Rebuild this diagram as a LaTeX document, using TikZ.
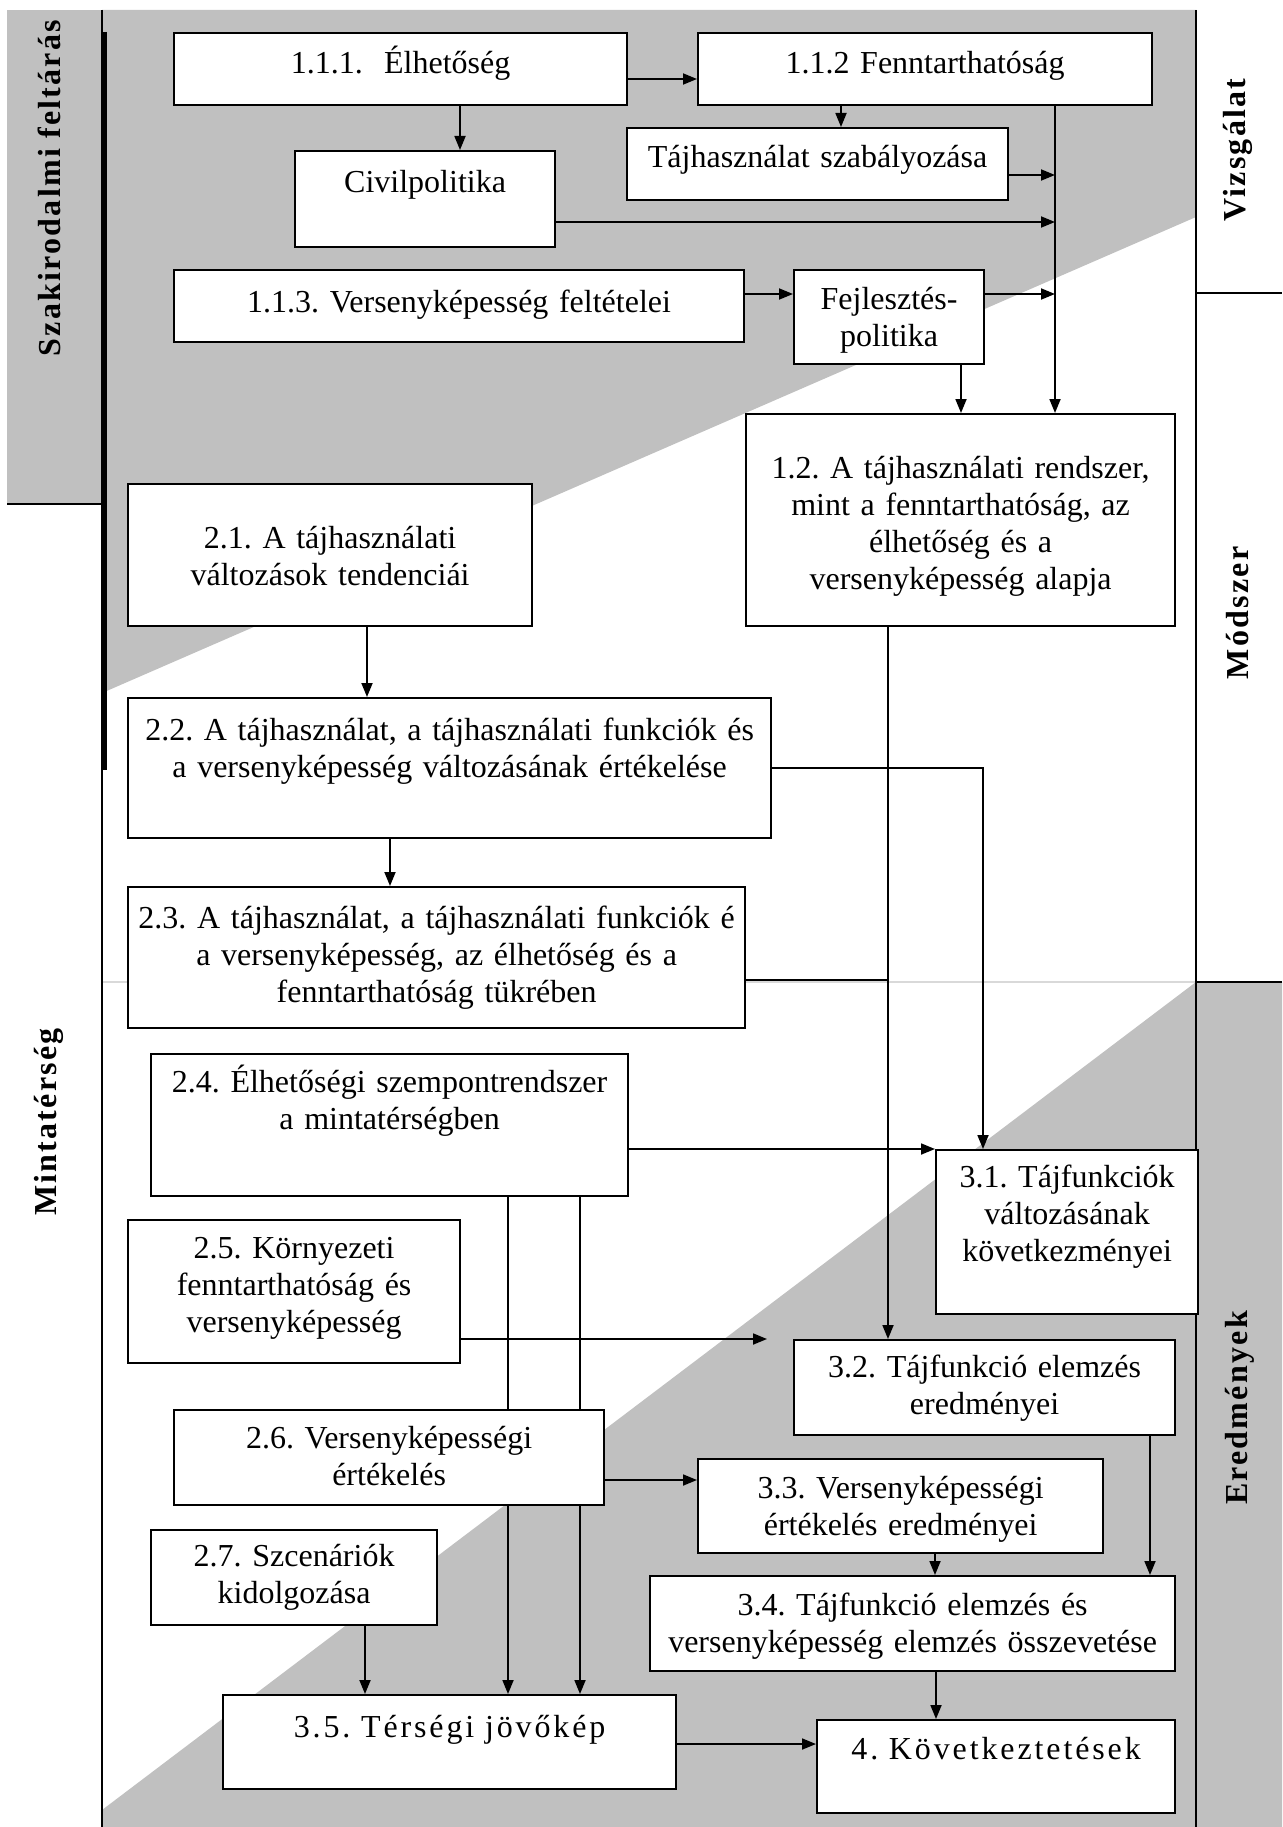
\documentclass[tikz,border=0pt]{standalone}
\usepackage{fontspec}
\setmainfont{Liberation Serif}
\usepackage{tikz}
\usetikzlibrary{arrows.meta}
\definecolor{bandgray}{RGB}{192,192,192}
\frenchspacing

\begin{document}
\begin{tikzpicture}[x=1pt,y=-1pt,
  font=\fontsize{32}{37}\selectfont,
  box/.style n args={4}{draw,line width=2.2pt,fill=white,anchor=north west,inner sep=0pt,align=center,
    text width=#1,minimum height=#2,text height=#3,text depth=#4},
  spaced/.style={font=\fontsize{32}{37}\selectfont\addfontfeature{LetterSpace=9}},
  side/.style={font=\fontsize{32}{37}\selectfont\bfseries\addfontfeature{LetterSpace=7},rotate=90},
  link/.style={line width=1.8pt,-{Triangle[length=14pt,width=11pt]}},
  plain/.style={line width=1.8pt}]
\useasboundingbox (0,0) rectangle (1282,1827);
\fill[white] (0,0) rectangle (1282,1827);
\fill[bandgray] (7,10) rectangle (102,504);
\fill[bandgray] (102,10) -- (1196,10) -- (1196,217) -- (102,693) -- cycle;
\fill[bandgray] (102,1810) -- (1196,982) -- (1282,982) -- (1282,1827) -- (102,1827) -- cycle;
\draw[black!15,line width=1.5pt] (102,982) -- (1196,982);
\draw[line width=2pt] (7,504) -- (102,504);
\draw[line width=1.8pt] (102,10) -- (102,1827);
\draw[line width=4pt] (104.5,32) -- (104.5,770);
\draw[line width=2pt] (1196,10) -- (1196,1827);
\draw[line width=2pt] (1196,293) -- (1282,293);
\draw[line width=2pt] (1196,982) -- (1282,982);

\node[side] (lszak) at (49,188) {Szakirodalmi feltárás};
\node[side] (lvizs) at (1238,150) {Vizsgálat};
\node[side] (lmod) at (1238,613) {Módszer};
\node[side] (lered) at (1240,1408) {Eredmények};
\node[side] (lmint) at (49,1122) {Mintatérség};

\node[box={453pt}{72pt}{40pt}{32pt}] (n111) at (173,32) {1.1.1.\ \ Élhetőség};
\node[box={454pt}{72pt}{40pt}{32pt}] (n112) at (697,32) {1.1.2 Fenntarthatóság};
\node[box={381pt}{72pt}{39pt}{33pt}] (ntaj) at (626,127) {Tájhasználat szabályozása};
\node[box={260pt}{96pt}{41pt}{55pt}] (ncivil) at (294,150) {Civilpolitika};
\node[box={570pt}{72pt}{42pt}{30pt}] (n113) at (173,269) {1.1.3. Versenyképesség feltételei};
\node[box={190pt}{94pt}{39pt}{55pt}] (nfejl) at (793,269) {Fejlesztés-\\politika};
\node[box={429pt}{212pt}{64pt}{148pt}] (n12) at (745,413) {1.2. A tájhasználati rendszer,\\mint a fenntarthatóság, az\\élhetőség és a\\versenyképesség alapja};
\node[box={404pt}{142pt}{64pt}{78pt}] (n21) at (127,483) {2.1. A tájhasználati\\változások tendenciái};
\node[box={643pt}{140pt}{42pt}{98pt}] (n22) at (127,697) {2.2. A tájhasználat, a tájhasználati funkciók és\\a versenyképesség változásának értékelése};
\node[box={617pt}{141pt}{41pt}{100pt}] (n23) at (127,886) {2.3. A tájhasználat, a tájhasználati funkciók é\\a versenyképesség, az élhetőség és a\\fenntarthatóság tükrében};
\node[box={477pt}{142pt}{38pt}{104pt}] (n24) at (150,1053) {2.4. Élhetőségi szempontrendszer\\a mintatérségben};
\node[box={332pt}{143pt}{38pt}{105pt}] (n25) at (127,1219) {2.5. Környezeti\\fenntarthatóság és\\versenyképesség};
\node[box={430pt}{95pt}{38pt}{57pt}] (n26) at (173,1409) {2.6. Versenyképességi\\értékelés};
\node[box={286pt}{95pt}{36pt}{59pt}] (n27) at (150,1529) {2.7. Szcenáriók\\kidolgozása};
\node[box={453pt}{94pt}{42pt}{52pt},spaced] (n35) at (222,1694) {3.5. Térségi jövőkép};
\node[box={262pt}{164pt}{37pt}{127pt}] (n31) at (935,1149) {3.1. Tájfunkciók\\változásának\\következményei};
\node[box={381pt}{95pt}{37pt}{58pt}] (n32) at (793,1339) {3.2. Tájfunkció elemzés\\eredményei};
\node[box={405pt}{94pt}{39pt}{55pt}] (n33) at (697,1458) {3.3. Versenyképességi\\értékelés eredményei};
\node[box={525pt}{95pt}{39pt}{56pt}] (n34) at (649,1575) {3.4. Tájfunkció elemzés és\\versenyképesség elemzés összevetése};
\node[box={358pt}{93pt}{39pt}{54pt},spaced] (n4) at (816,1719) {4. Következtetések};

\coordinate (trunk) at (1055,0);
\draw[link] (n111.east |- 0,79) -- (n112.west |- 0,79);
\draw[link] (n111.south -| 460,0) -- (ncivil.north -| 460,0);
\draw[link] (n112.south -| 841,0) -- (ntaj.north -| 841,0);
\draw[link] (n112.south -| trunk) -- (n12.north -| trunk);
\draw[link] (ntaj.east |- 0,175) -- (trunk |- 0,175);
\draw[link] (ncivil.east |- 0,222) -- (trunk |- 0,222);
\draw[link] (n113.east |- 0,294) -- (nfejl.west |- 0,294);
\draw[link] (nfejl.east |- 0,294) -- (trunk |- 0,294);
\draw[link] (nfejl.south -| 961,0) -- (n12.north -| 961,0);
\draw[link] (n21.south -| 367,0) -- (n22.north -| 367,0);
\draw[link] (n22.south -| 390,0) -- (n23.north -| 390,0);
\draw[link] (n12.south -| 888,0) -- (n32.north -| 888,0);
\draw[link] (n22.east |- 0,768) -| (n31.north -| 983,0);
\draw[plain] (n23.east |- 0,980) -- (888,980);
\draw[link] (n24.east |- n31.north west) -- (n31.north west);
\draw[plain] (n24.south -| 508,0) -- (n26.north -| 508,0);
\draw[link] (n26.south -| 508,0) -- (n35.north -| 508,0);
\draw[plain] (n24.south -| 580,0) -- (n26.north -| 580,0);
\draw[link] (n26.south -| 580,0) -- (n35.north -| 580,0);
\draw[link] (n25.east |- n32.north west) -- ([xshift=-26pt]n32.north west);
\draw[link] (n26.east |- 0,1480) -- (n33.west |- 0,1480);
\draw[link] (n27.south -| 365,0) -- (n35.north -| 365,0);
\draw[link] (n33.south -| 935,0) -- (n34.north -| 935,0);
\draw[link] (n32.south -| 1150,0) -- (n34.north -| 1150,0);
\draw[link] (n34.south -| 936,0) -- (n4.north -| 936,0);
\draw[link] (n35.east |- 0,1744) -- (n4.west |- 0,1744);
\end{tikzpicture}
\end{document}
